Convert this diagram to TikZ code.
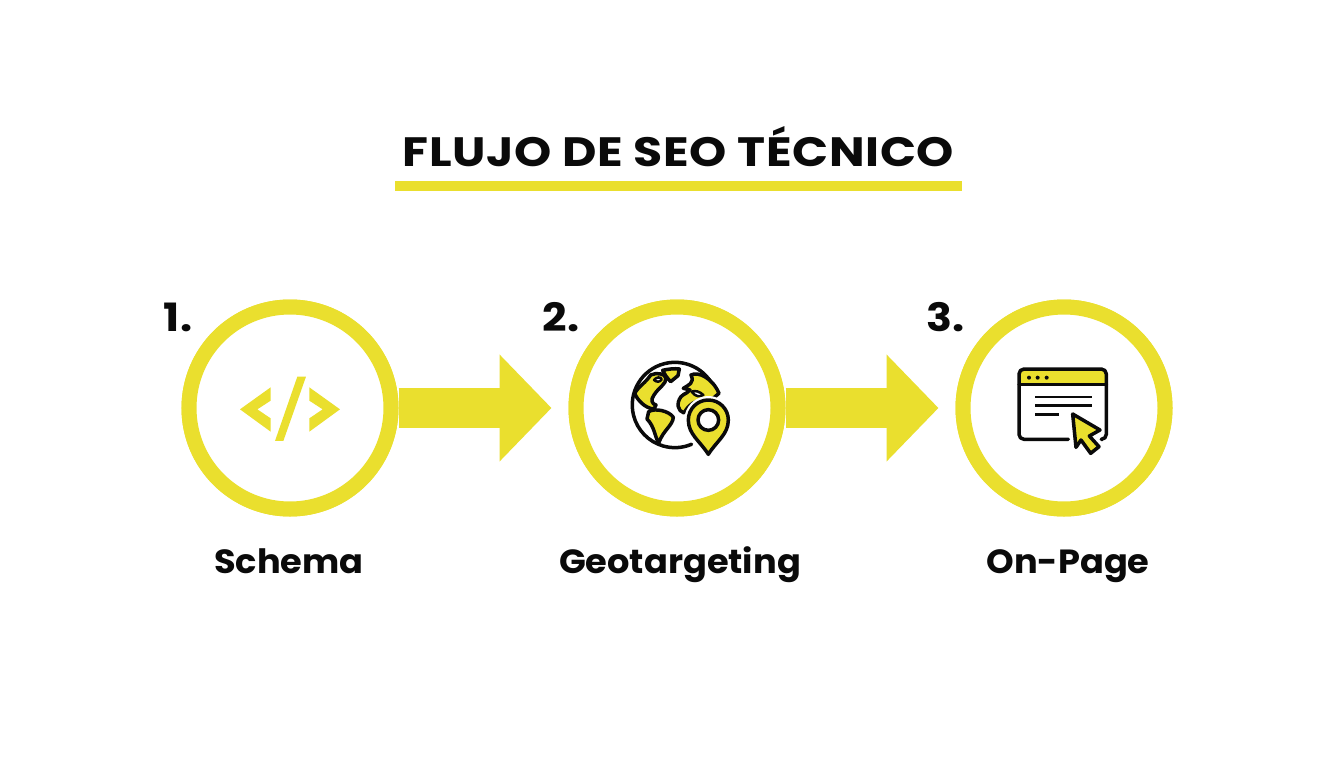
\documentclass[tikz,border=0pt]{standalone}
\usepackage{fontspec}
\setmainfont{Poppins}
\newfontfamily\titlefont[FakeStretch=1.155,LetterSpace=1.5]{Poppins}
\newfontfamily\numfont[FakeStretch=1.1]{Poppins}
\newfontfamily\labelfont[FakeStretch=1.05]{Poppins}
\usetikzlibrary{arrows.meta}
\definecolor{ylw}{HTML}{EADF2E}
\definecolor{ink}{HTML}{0A0A0A}
\tikzset{
  ring/.style={circle,draw=ylw,fill=white,line width=15pt,minimum size=202pt,inner sep=0pt},
  flow/.style={draw=ylw,line width=40pt,-{Triangle[length=52pt,width=104pt,fill=ylw]},shorten >=17pt},
  titletext/.style={font=\titlefont\fontsize{41}{41}\selectfont\bfseries,text=ink,inner sep=0pt,anchor=base},
  numtext/.style={font=\numfont\fontsize{39}{39}\selectfont\bfseries,text=ink,inner sep=0pt,anchor=base},
  labeltext/.style={font=\labelfont\fontsize{33.5}{33.5}\selectfont\bfseries,text=ink,inner sep=0pt,anchor=base},
  icon/.style={draw=ink,line width=3.5pt,line join=round,line cap=round},
  iconfill/.style={icon,fill=ylw},
}
\begin{document}
\begin{tikzpicture}[x=1pt,y=-1pt]
\useasboundingbox[fill=white] (0,0) rectangle (1344,768);
\node[titletext] (title) at (678.5,166) {FLUJO DE SEO TÉCNICO};
\fill[ylw] (395,181) rectangle (962,191);
\node[ring] (c1) at (290,408) {};
\node[ring] (c2) at (677,408) {};
\node[ring] (c3) at (1064,408) {};
\draw[flow] (c1) -- (c2);
\draw[flow] (c2) -- (c3);
\node[ring] at (c1) {};
\node[ring] at (c2) {};
\node[ring] at (c3) {};
\node[numtext] (n1) at (178,331) {1.};
\node[numtext] (n2) at (561,331) {2.};
\node[numtext] (n3) at (946,331) {3.};
\node[labeltext] (l1) at (289,573) {Schema};
\node[labeltext] (l2) at (680,573) {Geotargeting};
\node[labeltext] (l3) at (1068,573) {On-Page};
% code icon
\begin{scope}[shift={(220,360)},x=.3333pt,y=-.3333pt]
\fill[ylw] (152,82) -- (60,148) -- (152,215) -- (152,175) -- (112,148) -- (152,122) -- cycle;
\fill[ylw] (268,82) -- (360,148) -- (268,215) -- (268,175) -- (308,148) -- (268,122) -- cycle;
\fill[ylw] (232,50) -- (258,50) -- (190,243) -- (165,243) -- cycle;
\end{scope}
% globe icon
\begin{scope}[shift={(610,345)},x=.3333pt,y=-.3333pt]
\draw[icon] (319,149) arc[start angle=-14,end angle=-293,radius=128];
\draw[iconfill] (122,90) .. controls (140,82) and (165,85) .. (168,100) .. controls (168,118) and (148,125) .. (132,150) .. controls (120,165) and (127,178) .. (138,180) -- (132,192) .. controls (105,190) and (82,165) .. (74,145) .. controls (85,125) and (108,112) .. (122,90) -- cycle;
\draw[icon,fill=white,line width=2.5pt] (132,105) .. controls (140,95) and (152,95) .. (155,103) .. controls (150,112) and (140,112) .. (132,105) -- cycle;
\draw[iconfill] (158,76) .. controls (175,72) and (195,70) .. (208,72) -- (204,92) -- (182,110) .. controls (172,100) and (165,90) .. (158,76) -- cycle;
\draw[iconfill] (116,200) .. controls (135,188) and (178,198) .. (190,217) .. controls (188,242) and (160,255) .. (146,294) .. controls (134,275) and (134,245) .. (111,222) -- cycle;
\draw[iconfill] (243,90) .. controls (265,78) and (308,100) .. (327,145) -- (300,168) .. controls (270,162) and (242,168) .. (222,204) .. controls (203,198) and (198,175) .. (213,155) .. controls (225,143) and (235,145) .. (240,135) -- (220,130) .. controls (235,120) and (255,115) .. (243,90) -- cycle;
\draw[icon,fill=white,line width=2.5pt] (245,140) .. controls (255,135) and (270,140) .. (280,150) .. controls (270,157) and (255,155) .. (245,140) -- cycle;
\draw[draw=white,fill=white,line width=8pt,line join=round] (295,328) .. controls (270,288) and (235,268) .. (235,225) arc[start angle=180,end angle=360,radius=60] .. controls (355,268) and (320,288) .. (295,328) -- cycle;
\draw[iconfill] (295,328) .. controls (270,288) and (235,268) .. (235,225) arc[start angle=180,end angle=360,radius=60] .. controls (355,268) and (320,288) .. (295,328) -- cycle;
\draw[icon,fill=white] (295,225) circle[radius=31];
\end{scope}
% browser icon
\begin{scope}[shift={(1000,350)},x=.3333pt,y=-.3333pt]
\fill[ylw,rounded corners=5pt] (57,103) -- (57,57) -- (319,57) -- (319,103) -- cycle;
\draw[icon,rounded corners=5pt] (205,268) -- (57,268) -- (57,57) -- (319,57) -- (319,268) -- (308,268);
\draw[icon] (57,103) -- (319,103);
\fill[ink] (87,83) circle[radius=6] (113,83) circle[radius=6] (140,83) circle[radius=6];
\draw[icon,line width=2.8pt,line cap=butt] (105,141) -- (277,141);
\draw[icon,line width=2.8pt,line cap=butt] (105,167) -- (277,167);
\draw[icon,line width=2.8pt,line cap=butt] (105,193) -- (177,193);
\draw[iconfill] (218,192) -- (300,240) -- (268,258) -- (297,290) -- (272,310) -- (243,270) -- (228,292) -- cycle;
\end{scope}
\end{tikzpicture}
\end{document}
